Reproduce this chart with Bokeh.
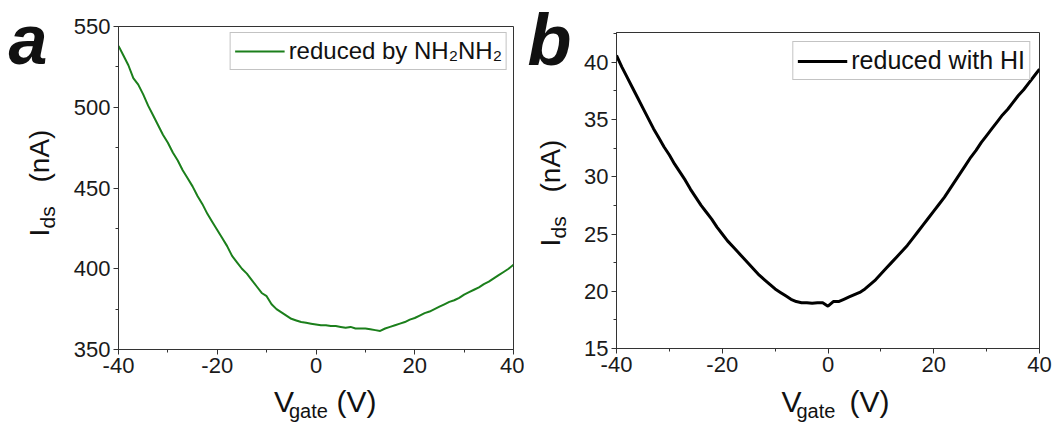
import math
from bokeh.plotting import figure
from bokeh.models import Label, SingleIntervalTicker, Range1d
from bokeh.layouts import row, column
from bokeh.embed import file_html
from bokeh.resources import INLINE

# ---------------- data ----------------
vgate = list(range(-40, 41))

ids_nh2nh2 = [538, 532, 526, 518, 514, 508, 501, 495, 489, 483,
              478, 472, 467, 461, 456, 451, 445, 440, 434, 429,
              424, 419, 414, 408, 404, 400, 397, 393, 389, 385,
              383, 378, 375, 373, 371, 369, 368, 367, 366.5, 366,
              365.5, 365, 365, 364.5, 364.5, 364, 363.5, 364, 363, 363,
              363, 362.5, 362, 361.5, 363, 364, 365, 366, 367, 368.5,
              369.5, 371, 372.5, 373.5, 375, 376.5, 378, 379.5, 380.5, 382,
              384, 385.5, 387, 388.5, 390.5, 392, 394, 396, 398, 400,
              402.5]

ids_hi = [40.6, 39.6, 38.7, 37.8, 36.9, 36.0, 35.1, 34.2, 33.4, 32.6,
          31.9, 31.1, 30.4, 29.7, 28.9, 28.2, 27.5, 26.9, 26.3, 25.6,
          25.0, 24.4, 23.9, 23.4, 22.9, 22.4, 21.9, 21.4, 21.0, 20.6,
          20.2, 19.9, 19.6, 19.3, 19.1, 19.0, 19.0, 18.95, 19.0, 19.0,
          18.7, 19.1, 19.1, 19.3, 19.5, 19.7, 19.9, 20.2, 20.6, 21.0,
          21.5, 22.0, 22.5, 23.0, 23.5, 24.0, 24.6, 25.2, 25.8, 26.4,
          27.0, 27.6, 28.2, 28.9, 29.6, 30.3, 31.0, 31.7, 32.3, 33.0,
          33.6, 34.2, 34.8, 35.4, 35.9, 36.5, 37.1, 37.6, 38.2, 38.8,
          39.4]

legend_a = "reduced by NH\u2082NH\u2082"
legend_b = "reduced with HI"
x_tick_text = {-40: "-40", -20: "-20"}

FONT = "Liberation Sans"
H_TOTAL = 423
H_MAIN = 385
K_MID = 0.38   # Label anchors its text box at mid-height


def style(p, yint):
    p.xaxis.ticker = SingleIntervalTicker(interval=20, num_minor_ticks=2)
    p.yaxis.ticker = SingleIntervalTicker(interval=yint, num_minor_ticks=2)
    p.xaxis.major_label_overrides = {float(k): v for k, v in x_tick_text.items()}
    for ax in (p.xaxis[0], p.yaxis[0]):
        ax.major_label_text_font = FONT
        ax.major_label_text_font_size = "22px"
        ax.major_label_text_color = "#1a1a1a"
        ax.axis_line_color = "#333333"
        ax.major_tick_line_color = "#333333"
        ax.minor_tick_line_color = "#333333"
        ax.major_tick_in = 0
        ax.major_tick_out = 5
        ax.minor_tick_in = 0
        ax.minor_tick_out = 3
        ax.major_label_standoff = 3
    p.grid.visible = False
    p.outline_line_color = "#333333"
    p.outline_line_alpha = 1.0
    p.background_fill_color = "white"
    p.border_fill_color = "white"


def style_legend(p, margin, size):
    lg = p.legend[0]
    lg.location = "top_right"
    lg.label_text_font = FONT
    lg.label_text_font_size = f"{size}px"
    lg.label_text_color = "#111111"
    lg.border_line_color = "#888888"
    lg.border_line_width = 1
    lg.background_fill_alpha = 1.0
    lg.margin = margin
    lg.padding = 4
    lg.glyph_width = 50
    lg.label_standoff = 4
    lg.spacing = 0


def text_fig(x0, y0, w, h, fl=None, fr=None):
    """Blank canvas used for free text; labels are placed in page pixels.
    fl/fr: page x of the frame edges (frames are aligned within a column)."""
    if fl is None:
        fl, fr = x0, x0 + w
    f = figure(width=w, height=h, title=None,
               x_range=Range1d(fl, fr), y_range=Range1d(y0 + h, y0),
               x_axis_type=None, y_axis_type=None,
               output_backend="svg", toolbar_location=None,
               min_border=0, min_border_left=fl - x0,
               min_border_right=x0 + w - fr,
               min_border_top=0, min_border_bottom=0)
    f.grid.visible = False
    f.outline_line_color = None
    f.background_fill_color = "white"
    f.border_fill_color = "white"

    def txt(px, py, s, size, rotated=False, fstyle="normal"):
        # (px, py): start of the text baseline in page pixels
        if rotated:
            ax, ay, ang = px - K_MID * size, py, math.pi / 2
        else:
            ax, ay, ang = px, py - K_MID * size, 0.0
        f.add_layout(Label(x=ax, y=ay, text=s, text_font=FONT,
                           text_font_size=f"{size}px",
                           text_font_style=fstyle, angle=ang,
                           text_align="left", text_baseline="middle",
                           text_color="#111111"))
    return f, txt


# ---------------- panel a ----------------
XA_L, XA_M, XB_L, XB_M = 0, 62, 524, 578
A_LEFT, A_RIGHT, A_TOP, A_BOTTOM = 118, 513, 26, 349

fa_left, ta = text_fig(XA_L, 0, XA_M - XA_L, H_TOTAL)
ta(8, 66, "a", 70, fstyle="bold italic")
ta(50, 236, "I", 28, rotated=True)
ta(55, 228, "ds", 21, rotated=True)
ta(50, 182, "(nA)", 28, rotated=True)

pa = figure(width=XB_L - XA_M, height=H_MAIN, title=None,
            x_range=Range1d(-40, 40), y_range=Range1d(350, 550),
            output_backend="svg", toolbar_location=None,
            min_border_left=A_LEFT - XA_M,
            min_border_right=XB_L - A_RIGHT,
            min_border_top=A_TOP,
            min_border_bottom=H_MAIN - A_BOTTOM)
style(pa, 50)
pa.line(vgate, ids_nh2nh2, line_color="#1b7f1b", line_width=2,
        legend_label=legend_a)
style_legend(pa, 6, 24)

fa_bot, tab = text_fig(XA_M, H_MAIN, XB_L - XA_M, H_TOTAL - H_MAIN,
                       A_LEFT, A_RIGHT)
tab(273.5, 412, "V", 30)
tab(288.5, 418, "gate", 20)
tab(336, 412, "(V)", 30)

# ---------------- panel b ----------------
B_LEFT, B_RIGHT, B_TOP, B_BOTTOM = 616, 1039, 32, 348
W_END = 1054

fb_left, tb = text_fig(XB_L, 0, XB_M - XB_L, H_TOTAL)
tb(527, 67, "b", 72, fstyle="bold italic")
tb(561, 246, "I", 28, rotated=True)
tb(566, 238, "ds", 21, rotated=True)
tb(561, 192, "(nA)", 28, rotated=True)

pb = figure(width=W_END - XB_M, height=H_MAIN, title=None,
            x_range=Range1d(-40, 40), y_range=Range1d(15, 42.6),
            output_backend="svg", toolbar_location=None,
            min_border_left=B_LEFT - XB_M,
            min_border_right=W_END - B_RIGHT,
            min_border_top=B_TOP,
            min_border_bottom=H_MAIN - B_BOTTOM)
style(pb, 5)
pb.line(vgate, ids_hi, line_color="#000000", line_width=3,
        legend_label=legend_b)
style_legend(pb, 9, 25)

fb_bot, tbb = text_fig(XB_M, H_MAIN, W_END - XB_M, H_TOTAL - H_MAIN,
                       B_LEFT, B_RIGHT)
tbb(781, 412, "V", 30)
tbb(796, 418, "gate", 20)
tbb(849, 412, "(V)", 30)

layout = row(fa_left, column(pa, fa_bot), fb_left, column(pb, fb_bot))
open("out.html", "w").write(file_html(layout, INLINE))
